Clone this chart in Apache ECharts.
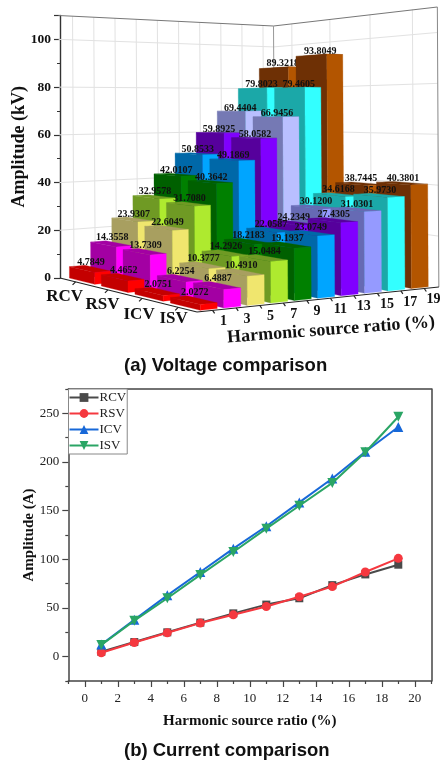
<!DOCTYPE html>
<html><head><meta charset="utf-8">
<style>html,body{margin:0;padding:0;background:#fff}#c{width:444px;height:762px}</style>
<script src="https://cdn.jsdelivr.net/npm/echarts@6/dist/echarts.min.js"></script>
</head><body><div id="c"></div>
<script>
// ---------- (a) voltage data ----------
const ratioLabels = [1,3,5,7,9,11,13,15,17,19];
const seriesNames = ['RCV','RSV','ICV','ISV'];
const RCV_kV = [4.7849,14.3558,23.9307,32.9578,42.0107,50.8533,59.8925,69.4404,79.8023,89.3218];
const RSV_kV = [4.4652,13.7309,22.6049,31.7080,40.3642,49.1869,58.0582,66.9456,79.4605,93.8049];
const ICV_kV = [2.0751,6.2254,10.3777,14.2926,18.2183,22.0587,24.2349,30.1200,34.6168,38.7445];
const ISV_kV = [2.0272,6.4887,10.4910,15.0484,19.1937,23.0749,27.4305,31.0301,35.9730,40.3801];
const voltage = [RCV_kV,RSV_kV,ICV_kV,ISV_kV];
const wallTicks = [0,20,40,60,80,100];
// ---------- (b) current data ----------
const ratios = [1,3,5,7,9,11,13,15,17,19];
const RCV_A = [5,15,25,35,44.5,53.5,60,73.5,84.5,94.5];
const RSV_A = [4,14.5,24.5,34.5,43,51.5,61.5,72,87,101];
const ICV_A = [12.5,38,63,87,111,134,158.5,183,210.5,236];
const ISV_A = [12,37,60,84,107.5,131.5,155,178.5,210,246.5];
// ---------- styles ----------
const bright = ['#ff0000','#ff00ff','#f0e66e','#aeea2f','#008000','#00a5ff','#8000ff','#b9bfff','#33ffff','#b35500'];
const dark   = ['#c40000','#a300a3','#a89f60','#6f9a24','#006000','#0068a8','#56009c','#7579b4','#1ba8a8','#6e3005'];
const frontPeriBright = '#959aff', frontPeriDark = '#666ab4';
const lineColors = ['#4a4a4a','#f5383f','#1768d8','#2aa565'];
const rowLabelDX = [-11,-5.5,-3,-4.5], rowLabelDY = [15,14.4,15.8,11.2];
const serif = '"Liberation Serif","Times New Roman",serif';
const sans = '"Liberation Sans",Arial,sans-serif';

// ---------- pseudo-3D box projection ----------
const L=[60,278], F=[197,312], R=[436,287.3], B=[275,256];   // floor corners
const H=(()=>{const [x0,y0]=L,[x1,y1]=F,[x2,y2]=R,[x3,y3]=B;
  const dx1=x1-x2,dx2=x3-x2,sx=x0-x1+x2-x3,dy1=y1-y2,dy2=y3-y2,sy=y0-y1+y2-y3;
  const det=dx1*dy2-dx2*dy1,g=(sx*dy2-dx2*sy)/det,h=(dx1*sy-sx*dy1)/det;
  return {a:x1-x0+g*x1,b:x3-x0+h*x3,c:x0,d:y1-y0+g*y1,e:y3-y0+h*y3,f:y0,g,h};})();
function proj(u,v,w){
  const d=H.g*u+H.h*v+1, fx=(H.a*u+H.b*v+H.c)/d, fy=(H.d*u+H.e*v+H.f)/d;
  const height=1.5653*fy+0.009*fx-173.2;      // full box height at this floor point
  return [fx-w*1.5, fy-w*height];
}

// normalised box coordinates, read through the chart's own hidden scales
const grid3D={left:60,top:15.5,width:379,height:262.5};
function toBox(api,cell,val){const p=api.coord([cell,val]);
  return [(p[0]-grid3D.left)/grid3D.width,(grid3D.top+grid3D.height-p[1])/grid3D.height];}

function poly(pts,fill,z2){return {type:'polygon',shape:{points:pts},style:{fill,stroke:fill,lineWidth:.3},z2:z2||0};}

function barRenderer(s){return function(params,api){
  const i=api.value(0),val=api.value(1);
  const [v0,w]=toBox(api,i+.14,val),[v1]=toBox(api,i+.86,val);
  const u0=(s+.1)/4,u1=(s+.9)/4;
  const a=proj(u0,v0,0),b=proj(u1,v0,0),c=proj(u1,v1,0);
  const at=proj(u0,v0,w),bt=proj(u1,v0,w),ct=proj(u1,v1,w),dt=proj(u0,v1,w);
  const col=ratioLabels.indexOf(api.value(2));
  const front=s>=2&&col===7;
  const dk=front?frontPeriDark:dark[col], br=front?frontPeriBright:bright[col];
  return {type:'group',silent:true,children:[
    poly([at,bt,ct,dt],dk),
    poly([a,b,bt,at],dk),
    poly([b,c,ct,bt],br),
    {type:'text',z2:5,style:{text:val.toFixed(4),x:(at[0]+ct[0])/2+1,y:Math.min(at[1],bt[1],ct[1],dt[1])+2,
      font:'bold 10px '+serif,fill:'#111',align:'center',verticalAlign:'bottom'}}
  ]};
};}

function wallRenderer(params,api){
  const ch=[];const line=(p,q,stroke,lw)=>ch.push({type:'line',shape:{x1:p[0],y1:p[1],x2:q[0],y2:q[1]},style:{stroke,lineWidth:lw},silent:true});
  const wTop=toBox(api,0,110)[1];
  const end=1.012;
  wallTicks.forEach(t=>{const w=toBox(api,0,t)[1];
    if(t===0)return;
    line(proj(0,0,w),proj(0,1,w),'#e2e2e2',1);line(proj(0,1,w),proj(1,end,w),'#e2e2e2',1);});
  ratioLabels.forEach((r,i)=>{const v=toBox(api,i+.5,0)[0];line(proj(0,v,0),proj(0,v,wTop),'#e2e2e2',1);});
  seriesNames.forEach((n,s)=>{const u=(s+.5)/4;line(proj(u,1,0),proj(u,1,wTop),'#e2e2e2',1);});
  line(proj(0,0,wTop),proj(0,1,wTop),'#777',1);
  line(proj(0,1,wTop),proj(1,end,wTop),'#777',1);
  line(proj(0,1,0),proj(0,1,wTop),'#999',1);
  line(proj(1,end,0),proj(1,end,wTop),'#888',1);
  return {type:'group',children:ch,silent:true};
}
function axisRenderer(params,api){
  const ch=[];const line=(p,q)=>ch.push({type:'line',shape:{x1:p[0],y1:p[1],x2:q[0],y2:q[1]},style:{stroke:'#222',lineWidth:1.2},silent:true});
  line(proj(0,0,0),proj(1,0,0));line(proj(1,0,0),proj(1,1.012,0));
  seriesNames.forEach((n,s)=>{const p=proj((s+.5)/4,0,0);line(p,[p[0]-3,p[1]+3]);
    ch.push({type:'text',silent:true,style:{text:n,x:p[0]+rowLabelDX[s],y:p[1]+rowLabelDY[s],font:'bold 17px '+serif,fill:'#111',align:'center',verticalAlign:'middle'}});});
  ratioLabels.forEach((r,i)=>{const v=toBox(api,i+.5,0)[0];const p=proj(1,v,0);line(p,[p[0]+2,p[1]+3]);
    ch.push({type:'text',silent:true,style:{text:String(r),x:p[0]+11-i*.2,y:p[1]+11,font:'bold 14px '+serif,fill:'#111',align:'center',verticalAlign:'middle'}});});
  ch.push({type:'text',silent:true,x:331,y:330,rotation:.075,originX:0,originY:0,
    style:{text:'Harmonic source ratio (%)',font:'bold 18px '+serif,fill:'#111',align:'center',verticalAlign:'middle'}});
  return {type:'group',children:ch,silent:true};
}

const bars3D=voltage.map((vals,s)=>{
  const order=ratioLabels.map((r,i)=>[i,vals[i],r]).reverse();
  return {name:seriesNames[s]+' voltage',type:'custom',xAxisIndex:0,yAxisIndex:0,coordinateSystem:'cartesian2d',clip:false,silent:true,
    renderItem:barRenderer(s),data:order,encode:{x:0,y:1},z:3+s};
});

const mkLine=(name,data,i,symbol,size,rotate)=>({name,type:'line',xAxisIndex:1,yAxisIndex:1,data:ratios.map((x,k)=>[x,data[k]]),
  symbol,symbolSize:size,symbolRotate:rotate||0,lineStyle:{width:2,color:lineColors[i]},itemStyle:{color:lineColors[i]},z:3+i,silent:true,animation:false});

const ax={onZero:false,lineStyle:{color:'#444',width:1.5}};
const majorX=[0,2,4,6,8,10,12,14,16,18,20], minorX=[-1,1,3,5,7,9,11,13,15,17,19,21];
const majorY=[0,50,100,150,200,250], minorY=[-25,25,75,125,175,225,275];

const option={
  animation:false,backgroundColor:'#fff',
  title:[
    {text:'(a) Voltage comparison',left:124,top:356,textStyle:{fontFamily:sans,fontWeight:'bold',fontSize:18.5,color:'#111'},padding:0},
    {text:'(b) Current comparison',left:124,top:741,textStyle:{fontFamily:sans,fontWeight:'bold',fontSize:18.5,color:'#111'},padding:0}
  ],
  grid:[
    Object.assign({containLabel:false},grid3D),
    {left:68.3,top:389,width:363,height:292,containLabel:false}
  ],
  legend:{data:['RCV','RSV','ICV','ISV'],orient:'vertical',left:68.5,top:389,itemWidth:29,itemHeight:11,itemGap:3,padding:[2,1,2,0],
    borderColor:'#888',borderWidth:1,backgroundColor:'#fff',textStyle:{fontFamily:serif,fontSize:13,color:'#222',padding:[0,0,0,-4]},z:10},
  xAxis:[
    {gridIndex:0,type:'value',min:-0.16,max:10,show:false},
    {gridIndex:1,type:'value',min:-1,max:21,position:'bottom',
     name:'Harmonic source ratio (%)',nameLocation:'middle',nameGap:33,nameMoveOverlap:false,nameTextStyle:{fontFamily:serif,fontWeight:'bold',fontSize:15,color:'#111'},
     axisLine:ax,axisTick:{customValues:majorX,length:6,lineStyle:{color:'#444',width:1.2}},
     axisLabel:{customValues:majorX,fontFamily:serif,fontSize:13,color:'#222',margin:11,showMinLabel:true,showMaxLabel:true},splitLine:{show:false}},
    {gridIndex:1,type:'value',min:-1,max:21,position:'bottom',axisLine:{show:false,onZero:false},axisLabel:{show:false},
     axisTick:{customValues:minorX,length:3,lineStyle:{color:'#444',width:1.2}},splitLine:{show:false}},
    {gridIndex:1,type:'value',min:-1,max:21,position:'top',axisLine:ax,axisLabel:{show:false},axisTick:{show:false},splitLine:{show:false}}
  ],
  yAxis:[
    {gridIndex:0,type:'value',min:0,max:110,interval:20,position:'left',
     name:'Amplitude (kV)',nameLocation:'middle',nameGap:32,nameMoveOverlap:false,nameRotate:90,nameTextStyle:{fontFamily:serif,fontWeight:'bold',fontSize:18,color:'#111'},
     axisLine:{show:true,onZero:false,lineStyle:{color:'#333',width:1.4}},axisTick:{show:true,length:6,lineStyle:{color:'#333',width:1.2}},
     minorTick:{show:true,splitNumber:2,length:3,lineStyle:{color:'#333',width:1}},
     axisLabel:{formatter:v=>v===110?'':String(v),fontFamily:serif,fontWeight:'bold',fontSize:13.5,color:'#111',margin:9},splitLine:{show:false}},
    {gridIndex:1,type:'value',min:-25,max:275,position:'left',
     name:'Amplitude (A)',nameLocation:'middle',nameGap:32,nameMoveOverlap:false,nameRotate:90,nameTextStyle:{fontFamily:serif,fontWeight:'bold',fontSize:15,color:'#111'},
     axisLine:Object.assign({show:true},ax),axisTick:{show:true,customValues:majorY,length:6,lineStyle:{color:'#444',width:1.2}},
     axisLabel:{customValues:majorY,fontFamily:serif,fontSize:13,color:'#222',margin:9},splitLine:{show:false}},
    {gridIndex:1,type:'value',min:-25,max:275,position:'left',axisLine:{show:false,onZero:false},axisLabel:{show:false},
     axisTick:{show:true,customValues:minorY,length:3,lineStyle:{color:'#444',width:1.2}},splitLine:{show:false}},
    {gridIndex:1,type:'value',min:-25,max:275,position:'right',axisLine:Object.assign({show:true},ax),axisLabel:{show:false},axisTick:{show:false},splitLine:{show:false}}
  ],
  series:[
    {type:'custom',name:'walls',xAxisIndex:0,yAxisIndex:0,clip:false,silent:true,renderItem:wallRenderer,data:[[0,0]],z:1},
    {type:'custom',name:'box axes',xAxisIndex:0,yAxisIndex:0,clip:false,silent:true,renderItem:axisRenderer,data:[[0,0]],z:2},
    ...bars3D,
    mkLine('RCV',RCV_A,0,'rect',8),
    mkLine('RSV',RSV_A,1,'circle',9),
    mkLine('ICV',ICV_A,2,'triangle',10),
    mkLine('ISV',ISV_A,3,'triangle',10,180)
  ]
};
const chart=echarts.init(document.getElementById('c'),null,{renderer:'canvas'});
chart.setOption(option);
</script></body></html>
